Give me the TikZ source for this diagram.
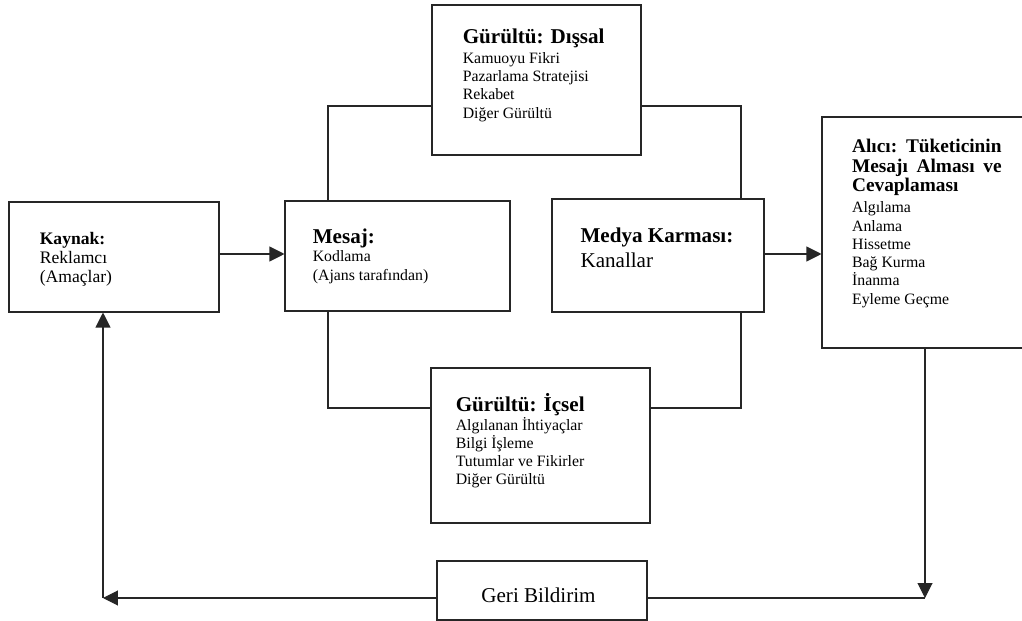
\documentclass[tikz,border=0pt]{standalone}
\usepackage{fontspec}
\setmainfont{Liberation Serif}
\usetikzlibrary{arrows.meta,calc,fit}

% heading line: bold at size #1, baseline skip #2
\newcommand\hd[2]{\fontsize{#1}{#2}\selectfont\bfseries}
% body line: regular at size #1, baseline skip #2
\newcommand\bd[2]{\fontsize{#1}{#2}\selectfont\mdseries}

\begin{document}
\begin{tikzpicture}[x=0.02cm, y=-0.02cm,
  box/.style={draw=black!85, line width=0.6pt, inner sep=0pt, fit={#1}},
  txt/.style={anchor=base west, inner sep=0pt},
  wire/.style={draw=black!85, line width=0.6pt},
  arr/.style={-{Triangle[length=0.3cm,width=0.3cm]}}]

\useasboundingbox (0,0) rectangle (1022,621);
\fill[white] (0,0) rectangle (1022,621);

% boxes
\node[box={(432,5) (641,155)}]   (dis)  {};
\node[box={(9,202) (219,312)}]   (kay)  {};
\node[box={(285,201) (510,311)}] (mes)  {};
\node[box={(552,199) (764,312)}] (med)  {};
\node[box={(822,117) (1030,348)}] (al)  {};
\node[box={(431,368) (650,523)}] (ic)   {};
\node[box={(437,561) (647,620)}] (geri) {};

% box texts
\node[txt] (dis-t) at ($(dis.north west)+(31,39.3)$) {\parbox[t]{4cm}{%
  \hd{12}{12}Gürültü: Dışsal\par
  \bd{9}{11.2}Kamuoyu Fikri\par
  \bd{9}{10.4}Pazarlama Stratejisi\par Rekabet\par Diğer Gürültü}};

\node[txt] (kay-t) at ($(kay.north west)+(31,43)$) {\parbox[t]{4cm}{%
  \hd{10}{10}Kaynak:\par
  \bd{10}{10.8}Reklamcı\par (Amaçlar)}};

\node[txt] (mes-t) at ($(mes.north west)+(28,43)$) {\parbox[t]{4cm}{%
  \hd{12}{12}Mesaj:\par
  \bd{9}{10.2}Kodlama\par
  \bd{9}{10.8}(Ajans tarafından)}};

\node[txt] (med-t) at ($(med.north west)+(28.7,44.3)$) {\parbox[t]{4cm}{%
  \hd{12}{12}Medya Karması:\par
  \bd{12}{14.2}Kanallar}};

\node[txt] (al-t) at ($(al.north west)+(30.3,36.5)$) {\parbox[t]{2.99cm}{%
  \hd{11}{11}Alıcı:\hfill Tüketicinin\par
  \hd{11}{11.1}Mesajı\hfill Alması\hfill ve\par Cevaplaması\par
  \bd{9}{11.9}Algılama\par
  \bd{9}{10.4}Anlama\par Hissetme\par Bağ Kurma\par İnanma\par Eyleme Geçme}};

\node[txt] (ic-t) at ($(ic.north west)+(25,43.7)$) {\parbox[t]{4cm}{%
  \hd{12}{12}Gürültü: İçsel\par
  \bd{9}{10.8}Algılanan İhtiyaçlar\par
  \bd{9}{10.4}Bilgi İşleme\par Tutumlar ve Fikirler\par Diğer Gürültü}};

\node[anchor=base, inner sep=0pt] (geri-t) at ($(geri.center)+(-3.5,12.5)$)
  {\fontsize{12}{14}\selectfont Geri Bildirim};

% noise loops around the channel
\coordinate (tl) at (328,106);
\coordinate (tr) at (741,106);
\coordinate (bl) at (328,408);
\coordinate (br) at (741,408);
\draw[wire] (mes.north -| tl) |- (dis.west |- tl);
\draw[wire] (dis.east |- tr) -| (med.north -| tr);
\draw[wire] (mes.south -| bl) |- (ic.west |- bl);
\draw[wire] (ic.east |- br) -| (med.south -| br);

% main flow
\coordinate (ay) at (0,254);
\draw[wire,arr] (kay.east |- ay) -- (mes.west |- ay);
\draw[wire,arr] (med.east |- ay) -- (al.west |- ay);

% feedback path
\coordinate (fr) at (925,598);
\coordinate (fl) at (103,598);
\draw[wire,arr] (al.south -| fr) -- (fr);
\draw[wire] (geri.east |- fr) -- (fr);
\draw[wire,arr] (geri.west |- fl) -- (fl);
\draw[wire,arr] (fl) -- (kay.south -| fl);
\end{tikzpicture}
\end{document}
